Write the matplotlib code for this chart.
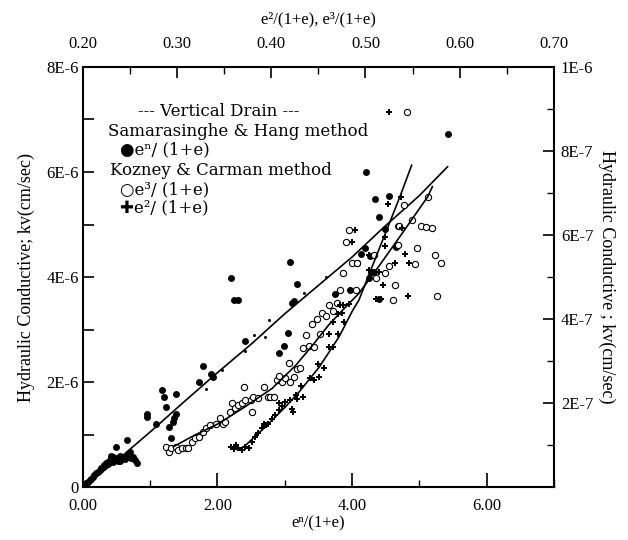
import matplotlib
matplotlib.use("Agg")
import matplotlib.pyplot as plt
from matplotlib.ticker import MultipleLocator, FormatStrFormatter

plt.rcParams['font.family'] = ['Liberation Serif', 'DejaVu Serif', 'DejaVu Sans']

# === Samarasinghe & Hang : e^n/(1+e) (eje inferior) vs kv (eje izq., x1E-6 cm/sec) ===
sh_x = [0.05, 0.07, 0.10, 0.12, 0.15, 0.17, 0.20, 0.22, 0.25, 0.27, 0.30, 0.32, 0.35, 0.37,
        0.40, 0.42, 0.45, 0.47, 0.50, 0.52, 0.55, 0.57, 0.60, 0.62, 0.65, 0.67, 0.70, 0.72,
        0.75, 0.77, 0.80, 0.49, 0.65, 0.38, 0.45, 0.55,
        0.95, 0.96, 1.08, 1.17, 1.20, 1.23, 1.28, 1.31, 1.39, 1.38, 1.36, 1.34, 1.72, 1.78,
        1.91, 1.94, 2.41, 2.91, 2.99, 3.05, 3.11, 2.20, 2.24, 2.31, 3.08, 3.18, 3.13, 3.75,
        3.97, 4.08, 4.13, 4.19, 4.26, 4.28, 4.33, 4.25, 4.40, 4.34, 4.21, 4.55, 4.40, 4.49,
        4.65, 4.69, 5.42]
sh_k = [0.07, 0.10, 0.13, 0.16, 0.20, 0.23, 0.26, 0.29, 0.32, 0.36, 0.39, 0.42, 0.45, 0.48,
        0.51, 0.59, 0.57, 0.53, 0.55, 0.50, 0.60, 0.58, 0.55, 0.53, 0.58, 0.61, 0.67, 0.55,
        0.58, 0.52, 0.46, 0.76, 0.90, 0.44, 0.48, 0.50,
        1.40, 1.34, 1.20, 1.85, 1.72, 1.52, 1.14, 0.93, 1.77, 1.40, 1.31, 1.24, 2.01, 2.30,
        2.15, 2.09, 2.78, 2.55, 2.69, 2.93, 3.51, 3.98, 3.56, 3.56, 4.29, 3.87, 3.54, 3.67,
        3.75, 4.26, 4.44, 4.55, 4.40, 4.10, 4.10, 3.98, 3.58, 5.49, 6.00, 5.54, 5.15, 4.91,
        4.58, 4.97, 6.72]
# puntos pequeños
shs_x = [1.83, 2.07, 2.41, 2.54, 2.71, 2.76, 3.28, 3.61]
shs_k = [1.87, 2.23, 2.60, 2.90, 2.86, 3.19, 3.70, 4.00]
# curva ajustada
shfit_x = [0.0, 0.5, 1.0, 1.5, 2.0, 2.5, 3.0, 3.5, 4.0, 4.5, 5.0, 5.42]
shfit_k = [0.0, 0.5, 1.05, 1.62, 2.18, 2.72, 3.30, 3.84, 4.38, 4.98, 5.55, 6.10]

# === Kozney & Carman : e^3/(1+e), e^2/(1+e) (eje superior) vs kv (eje der., x1E-7 cm/sec) ===
kc3_x = [0.288, 0.291, 0.294, 0.299, 0.301, 0.305, 0.309, 0.312, 0.316, 0.319, 0.323, 0.328,
         0.331, 0.335, 0.341, 0.346, 0.349, 0.351, 0.356, 0.358, 0.361, 0.365, 0.369, 0.371,
         0.372, 0.378, 0.379, 0.381, 0.386, 0.392, 0.396, 0.399, 0.403, 0.406, 0.408, 0.411,
         0.415, 0.420, 0.424, 0.427, 0.419, 0.431, 0.434, 0.440, 0.445, 0.437, 0.452, 0.443,
         0.449, 0.454, 0.458, 0.461, 0.466, 0.470, 0.473, 0.476, 0.479, 0.483, 0.486, 0.491,
         0.490, 0.509, 0.511, 0.521, 0.525, 0.529, 0.531, 0.535, 0.536, 0.541, 0.549, 0.553,
         0.555, 0.559, 0.564, 0.571, 0.566, 0.574, 0.580, 0.576, 0.544]
kc3_k = [0.95, 0.84, 0.93, 0.96, 0.88, 0.93, 0.93, 0.93, 1.08, 1.16, 1.20, 1.31,
         1.40, 1.48, 1.51, 1.64, 1.51, 1.55, 1.79, 1.99, 1.88, 1.95, 1.99, 2.39,
         2.08, 2.08, 1.79, 2.15, 2.11, 2.39, 2.14, 2.14, 2.15, 2.55, 2.64, 2.51,
         2.59, 2.51, 2.63, 2.80, 2.95, 2.84, 3.30, 3.36, 3.34, 3.63, 3.64, 3.88,
         4.01, 4.15, 4.08, 4.34, 4.18, 4.39, 4.69, 5.09, 5.84, 6.13, 5.33, 5.33,
         4.69, 5.53, 4.98, 5.10, 5.26, 4.45, 4.81, 5.76, 6.21, 6.71, 6.36, 5.31,
         5.69, 6.21, 6.19, 6.16, 6.91, 5.53, 5.33, 4.55, 8.93]
kc3fit_x = [0.296, 0.319, 0.344, 0.372, 0.401, 0.426, 0.444, 0.461, 0.479, 0.493, 0.514,
            0.539, 0.566, 0.571]
kc3fit_k = [0.96, 1.24, 1.51, 1.91, 2.35, 2.90, 3.38, 3.86, 4.29, 4.61, 5.25, 6.04, 6.91, 7.15]

kc2_x = [0.357, 0.360, 0.362, 0.365, 0.369, 0.372, 0.376, 0.379, 0.383, 0.386, 0.390, 0.392,
         0.394, 0.397, 0.401, 0.404, 0.408, 0.408, 0.411, 0.415, 0.420, 0.422, 0.423, 0.426,
         0.427, 0.432, 0.434, 0.441, 0.445, 0.451, 0.450, 0.456, 0.461, 0.465, 0.461, 0.471,
         0.466, 0.477, 0.471, 0.475, 0.473, 0.476, 0.483, 0.484, 0.486, 0.489, 0.504, 0.504,
         0.511, 0.516, 0.514, 0.519, 0.521, 0.521, 0.524, 0.525, 0.531, 0.538, 0.539, 0.542,
         0.545, 0.546]
kc2_k = [0.96, 0.90, 1.00, 0.93, 0.88, 0.96, 0.93, 1.08, 1.20, 1.28, 1.40, 1.51,
         1.48, 1.51, 1.61, 1.71, 1.84, 1.99, 1.93, 2.03, 2.08, 1.85, 1.78, 2.19,
         2.09, 2.40, 2.14, 2.59, 2.55, 2.61, 2.93, 2.83, 3.34, 3.33, 3.64, 3.64,
         3.94, 3.94, 4.13, 4.14, 4.34, 4.34, 4.36, 4.69, 5.84, 6.13, 5.53, 5.16,
         4.48, 4.48, 5.13, 4.81, 5.73, 5.96, 6.73, 8.93, 5.33, 6.91, 6.16, 5.55,
         4.55, 5.33]
kc2fit_x = [0.371, 0.394, 0.415, 0.429, 0.451, 0.472, 0.486, 0.493, 0.514, 0.536, 0.549]
kc2fit_k = [0.96, 1.44, 1.91, 2.25, 2.86, 3.58, 4.19, 4.45, 5.64, 6.88, 7.66]

# === Figura ===
fig = plt.figure(figsize=(6.28, 5.40), dpi=100)
ax = fig.add_axes([0.132, 0.098, 0.750, 0.778])
ax2 = fig.add_axes(ax.get_position(), frameon=False)

ax.plot(sh_x, [k * 1e-6 for k in sh_k], 'o', color='black', ms=5, mew=0)
ax.plot(shs_x, [k * 1e-6 for k in shs_k], 'o', color='black', ms=2.2, mew=0)
ax.plot(shfit_x, [k * 1e-6 for k in shfit_k], '-', color='black', lw=1.2)

ax2.plot(kc3_x, [k * 1e-7 for k in kc3_k], 'o', mfc='white', mec='black', ms=4.5, mew=0.8)
ax2.plot(kc3fit_x, [k * 1e-7 for k in kc3fit_k], '-', color='black', lw=1.2)
ax2.plot(kc2_x, [k * 1e-7 for k in kc2_k], 'P', color='black', ms=4.6, mew=0)
ax2.plot(kc2fit_x, [k * 1e-7 for k in kc2fit_k], '-', color='black', lw=1.2)

# ejes inferior / izquierdo
ax.set_xlim(0, 7)
ax.set_ylim(0, 8e-6)
ax.xaxis.set_major_locator(MultipleLocator(2))
ax.xaxis.set_minor_locator(MultipleLocator(1))
ax.xaxis.set_major_formatter(FormatStrFormatter('%.2f'))
ax.set_yticks([0, 2e-6, 4e-6, 6e-6, 8e-6], ['0', '2E-6', '4E-6', '6E-6', '8E-6'])
ax.yaxis.set_minor_locator(MultipleLocator(1e-6))
ax.tick_params(axis='x', which='major', direction='in', length=10, width=1.2, labelsize=12, pad=8)
ax.tick_params(axis='x', which='minor', direction='in', length=5, width=1.0)
ax.tick_params(axis='y', which='both', direction='in', length=8, width=1.2, labelsize=12, pad=3)
ax.set_xlabel('eⁿ/(1+e)', fontsize=12, labelpad=1)
ax.set_ylabel('Hydraulic Conductive; kv(cm/sec)', fontsize=13, labelpad=8)

# ejes superior / derecho
ax2.set_xlim(0.2, 0.7)
ax2.set_ylim(0, 1e-6)
ax2.xaxis.tick_top()
ax2.yaxis.tick_right()
ax2.xaxis.set_label_position('top')
ax2.yaxis.set_label_position('right')
ax2.xaxis.set_major_locator(MultipleLocator(0.1))
ax2.xaxis.set_minor_locator(MultipleLocator(0.05))
ax2.xaxis.set_major_formatter(FormatStrFormatter('%.2f'))
ax2.set_yticks([0, 2e-7, 4e-7, 6e-7, 8e-7, 1e-6], ['', '2E-7', '4E-7', '6E-7', '8E-7', '1E-6'])
ax2.yaxis.set_minor_locator(MultipleLocator(1e-7))
ax2.tick_params(axis='x', which='major', direction='in', length=8, width=1.2, labelsize=12, pad=11)
ax2.tick_params(axis='x', which='minor', direction='in', length=5, width=1.0)
ax2.tick_params(axis='y', which='major', direction='in', length=8, width=1.2, labelsize=12, pad=5)
ax2.tick_params(axis='y', which='minor', direction='in', length=5, width=1.0)
ax2.set_xlabel('e²/(1+e), e³/(1+e)', fontsize=12, labelpad=9)
ax2.set_ylabel('Hydraulic Conductive ; kv(cm/sec)', fontsize=13, rotation=-90, labelpad=16)

for s in ax.spines.values():
    s.set_linewidth(1.5)

# === Leyenda (texto) ===
leg = dict(fontsize=12, va='center', ha='left', family=['DejaVu Serif', 'DejaVu Sans'])
fig.text(138 / 628, 1 - 112 / 540, '--- Vertical Drain ---', **leg)
fig.text(108 / 628, 1 - 132 / 540, 'Samarasinghe & Hang method', **leg)
fig.text(120 / 628, 1 - 150 / 540, '●eⁿ/ (1+e)', **leg)
fig.text(110 / 628, 1 - 170 / 540, 'Kozney & Carman method', **leg)
fig.text(120 / 628, 1 - 190 / 540, '○e³/ (1+e)', **leg)
fig.text(120 / 628, 1 - 208 / 540, '✚e²/ (1+e)', **leg)

fig.savefig('out.png', dpi=100)
